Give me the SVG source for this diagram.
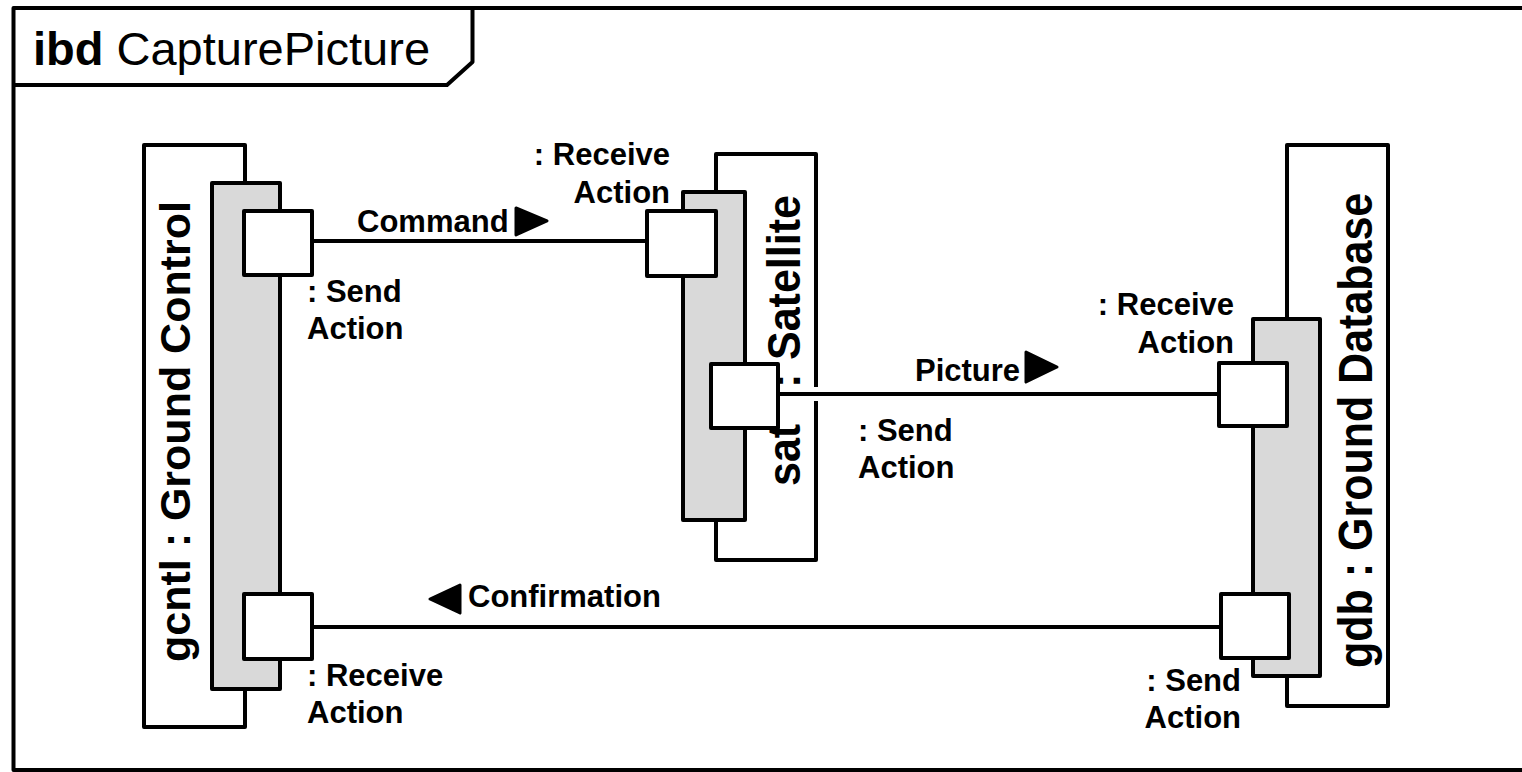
<svg xmlns="http://www.w3.org/2000/svg" width="1522" height="772" viewBox="0 0 1522 772">
<style>
.ln{fill:none;stroke:#000;stroke-width:4;stroke-linejoin:round}
.outer{fill:#fff;stroke:#000;stroke-width:4;stroke-linejoin:round}
.inner{fill:#d9d9d9;stroke:#000;stroke-width:4;stroke-linejoin:round}
.port{fill:#fff;stroke:#000;stroke-width:4;stroke-linejoin:round}
.lbl{font-family:"Liberation Sans",Arial,sans-serif;font-weight:bold;font-size:31px;fill:#000}
.vlbl{font-family:"Liberation Sans",Arial,sans-serif;font-weight:bold;font-size:43px;fill:#000}
.title{font-family:"Liberation Sans",Arial,sans-serif;font-size:47px;fill:#000}
.tri{fill:#000;stroke:#000;stroke-width:3;stroke-linejoin:round}
</style>
<rect x="0" y="0" width="1522" height="772" fill="#fff"/>
<g id="frame">
<rect x="13.5" y="8" width="1530" height="762" class="ln"/>
<path d="M13.5 85 L447 85 L472.5 62 L472.5 8" class="ln"/>
<text x="33" y="65" class="title"><tspan font-weight="bold">ibd</tspan> CapturePicture</text>
</g>
<g id="gcntl">
<rect x="144" y="145" width="101" height="582" class="outer"/>
<rect x="212" y="183" width="68" height="506" class="inner"/>
<text class="vlbl" transform="translate(190,662) rotate(-90)">gcntl : Ground Control</text>
</g>
<g id="sat">
<rect x="716" y="154" width="100" height="406" class="outer"/>
<rect x="683" y="192" width="62" height="328" class="inner"/>
<text class="vlbl" transform="translate(800,486) scale(1.08,1) rotate(-90)"><tspan x="0">sat</tspan><tspan x="98">:</tspan><tspan x="126">Satellite</tspan></text>
</g>
<g id="gdb">
<rect x="1287" y="145" width="101" height="561" class="outer"/>
<rect x="1253" y="319" width="67" height="357" class="inner"/>
<text class="vlbl" transform="translate(1372,668) scale(1.1,1) rotate(-90)">gdb : Ground Database</text>
</g>
<g id="connectors">
<line x1="312" y1="241" x2="647" y2="241" class="ln"/>
<line x1="780" y1="394" x2="1219" y2="394" stroke="#fff" stroke-width="14"/>
<line x1="778" y1="394" x2="1219" y2="394" class="ln"/>
<line x1="312" y1="627" x2="1221" y2="627" class="ln"/>
</g>
<g id="ports">
<rect id="gcntl-send" x="244" y="211" width="68" height="64" class="port"/>
<rect id="gcntl-recv" x="244" y="594" width="68" height="65" class="port"/>
<rect id="sat-recv" x="647" y="211" width="69" height="65" class="port"/>
<rect id="sat-send" x="711" y="364" width="67" height="64" class="port"/>
<rect id="gdb-recv" x="1219" y="363" width="68" height="63" class="port"/>
<rect id="gdb-send" x="1221" y="594" width="68" height="64" class="port"/>
</g>
<g id="labels">
<text class="lbl" x="357" y="232">Command</text>
<polygon class="tri" points="516,208 547,221 516,235"/>
<text class="lbl" x="915" y="381">Picture</text>
<polygon class="tri" points="1026,352 1057,367 1026,382"/>
<text class="lbl" x="468" y="607">Confirmation</text>
<polygon class="tri" points="460,585 430,599 460,613"/>
<text class="lbl" x="307" y="302">: Send</text>
<text class="lbl" x="307" y="339">Action</text>
<text class="lbl" x="670" y="165" text-anchor="end">: Receive</text>
<text class="lbl" x="670" y="203" text-anchor="end">Action</text>
<text class="lbl" x="858" y="441">: Send</text>
<text class="lbl" x="858" y="478">Action</text>
<text class="lbl" x="1234" y="315" text-anchor="end">: Receive</text>
<text class="lbl" x="1234" y="353" text-anchor="end">Action</text>
<text class="lbl" x="307" y="686">: Receive</text>
<text class="lbl" x="307" y="723">Action</text>
<text class="lbl" x="1241" y="691" text-anchor="end">: Send</text>
<text class="lbl" x="1241" y="728" text-anchor="end">Action</text>
</g>
</svg>
